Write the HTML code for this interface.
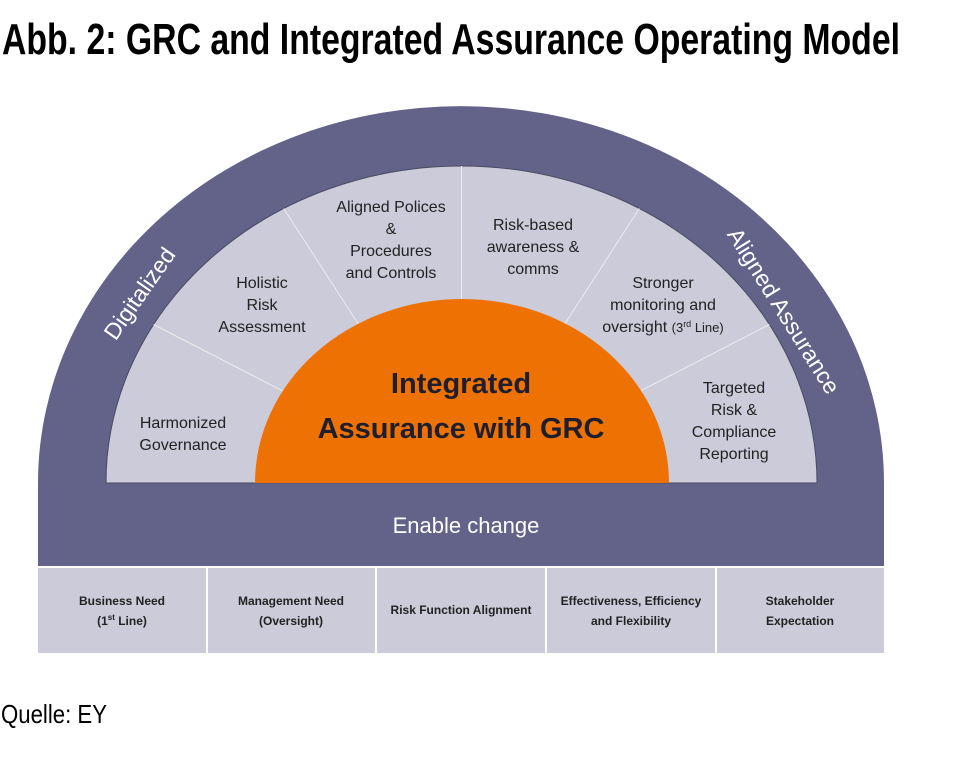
<!DOCTYPE html>
<html><head><meta charset="utf-8"><style>
html,body{margin:0;padding:0;background:#fff;}
svg{display:block;}
text{font-family:"Liberation Sans",sans-serif;}
</style></head><body>
<svg width="955" height="774" viewBox="0 0 955 774" xmlns="http://www.w3.org/2000/svg">
<text x="2" y="54" font-size="44" font-weight="bold" fill="#000" textLength="898" lengthAdjust="spacingAndGlyphs">Abb. 2: GRC and Integrated Assurance Operating Model</text>
<!-- dark arch -->
<path d="M38,566 L38,483 A423,377 0 0 1 884,483 L884,566 Z" fill="#636389"/>
<!-- light ring -->
<path d="M106,483 A355.5,317 0 0 1 817,483 Z" fill="#cbcbd9" stroke="#4a4a62" stroke-width="1"/>
<!-- dividers -->
<g stroke="#ececf2" stroke-width="1">
<line x1="282.7" y1="391" x2="153.6" y2="324.5"/>
<line x1="358" y1="323.6" x2="283.7" y2="208.5"/>
<line x1="461.5" y1="299" x2="461.5" y2="166"/>
<line x1="565" y1="323.6" x2="639.3" y2="208.5"/>
<line x1="640.3" y1="391" x2="769.4" y2="324.5"/>
</g>
<!-- orange -->
<path d="M255,483 A207,184 0 0 1 669,483 Z" fill="#ee7203"/>
<g font-size="16" fill="#222" text-anchor="middle">
<text x="183" y="428">Harmonized</text><text x="183" y="450">Governance</text>
<text x="262" y="288">Holistic</text><text x="262" y="310">Risk</text><text x="262" y="332">Assessment</text>
<text x="391" y="212">Aligned Polices</text><text x="391" y="234">&amp;</text><text x="391" y="256">Procedures</text><text x="391" y="278">and Controls</text>
<text x="533" y="230">Risk-based</text><text x="533" y="252">awareness &amp;</text><text x="533" y="274">comms</text>
<text x="663" y="288">Stronger</text><text x="663" y="310">monitoring and</text><text x="663" y="332">oversight <tspan font-size="13">(3<tspan font-size="9" dy="-5">rd</tspan><tspan dy="5"> Line)</tspan></tspan></text>
<text x="734" y="393">Targeted</text><text x="734" y="415">Risk &amp;</text><text x="734" y="437">Compliance</text><text x="734" y="459">Reporting</text>
</g>
<g font-size="29" font-weight="bold" fill="#1e1e2e" text-anchor="middle">
<text x="461" y="393">Integrated</text>
<text x="461" y="438">Assurance with GRC</text>
</g>
<text x="0" y="0" font-size="23" fill="#fff" text-anchor="middle" transform="translate(146,298) rotate(-55)">Digitalized</text>
<text x="0" y="0" font-size="23" fill="#fff" text-anchor="middle" transform="translate(777,315) rotate(58)">Aligned Assurance</text>
<text x="466" y="533" font-size="22" fill="#fff" text-anchor="middle">Enable change</text>
<!-- boxes -->
<g fill="#cbcbd9">
<rect x="38" y="568" width="168" height="85"/>
<rect x="208" y="568" width="167" height="85"/>
<rect x="377" y="568" width="168" height="85"/>
<rect x="547" y="568" width="168" height="85"/>
<rect x="717" y="568" width="167" height="85"/>
</g>
<g font-size="12" font-weight="bold" fill="#222" text-anchor="middle">
<text x="122" y="605">Business Need</text><text x="122" y="625">(1<tspan font-size="8" dy="-5">st</tspan><tspan dy="5"> Line)</tspan></text>
<text x="291" y="605">Management Need</text><text x="291" y="625">(Oversight)</text>
<text x="461" y="614">Risk Function Alignment</text>
<text x="631" y="605">Effectiveness, Efficiency</text><text x="631" y="625">and Flexibility</text>
<text x="800" y="605">Stakeholder</text><text x="800" y="625">Expectation</text>
</g>
<text x="1" y="723" font-size="26" fill="#000" textLength="106" lengthAdjust="spacingAndGlyphs">Quelle: EY</text>
</svg>
</body></html>
